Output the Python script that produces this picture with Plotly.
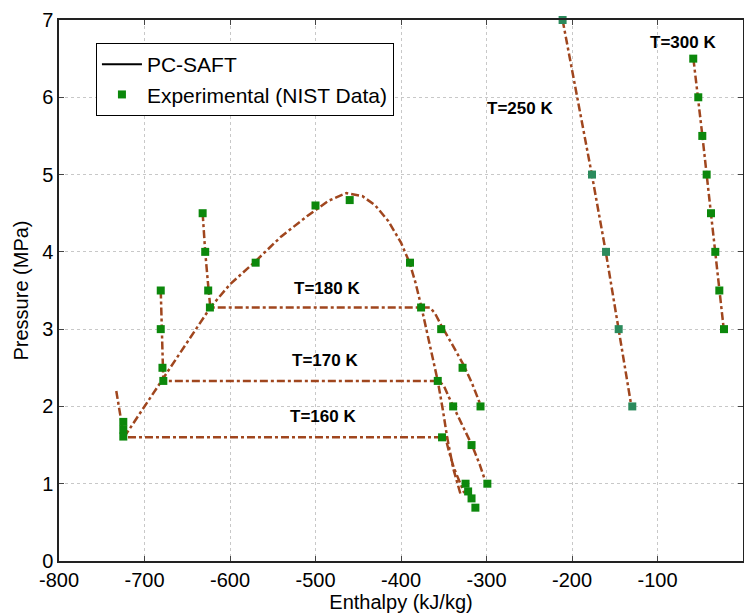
import plotly.graph_objects as go

# ---------------- data ----------------
# PC-SAFT curves (enthalpy kJ/kg, pressure MPa)
dome_h = [-724, -700, -678, -650, -623, -600, -570, -540, -510, -485, -464, -445, -430,
          -415, -400, -390, -383, -376, -366, -357, -351, -346, -339, -333, -330]
dome_p = [1.6, 2.0, 2.35, 2.82, 3.28, 3.58, 3.88, 4.2, 4.46, 4.66, 4.76, 4.72, 4.6,
          4.4, 4.12, 3.86, 3.6, 3.28, 2.8, 2.33, 1.95, 1.6, 1.2, 0.95, 0.85]

t160_h = [-733, -724, -348, -344, -338, -331, -326]
t160_p = [2.2, 1.6, 1.6, 1.42, 1.2, 1.0, 0.88]

t170_h = [-681, -680, -679, -678, -356, -350, -344, -339, -328, -317, -308, -301]
t170_p = [3.5, 3.0, 2.5, 2.33, 2.33, 2.27, 2.12, 2.0, 1.75, 1.5, 1.25, 1.02]

t180_h = [-632, -629, -625, -623, -376, -366, -360, -353, -340, -327, -317, -307]
t180_p = [4.5, 4.0, 3.5, 3.28, 3.28, 3.28, 3.2, 3.05, 2.8, 2.54, 2.3, 2.02]

t250_h = [-211, -193.5, -176.8, -160.5, -145.3, -130.5]
t250_p = [7.0, 6.0, 5.0, 4.0, 3.0, 2.0]

t300_h = [-58, -52.5, -47.5, -42.5, -37.5, -32.5, -27.5, -22.5]
t300_p = [6.5, 6.0, 5.5, 5.0, 4.5, 4.0, 3.5, 3.0]

# Experimental (NIST) points
exp_h = [-724.8, -724.8, -724.8,
         -681, -681, -679, -678,
         -632, -629, -625.5, -623.5,
         -570, -500, -460, -389.5,
         -376.5, -353, -328, -307,
         -357, -339, -317.5, -299,
         -352, -324.5, -321.5, -317.5, -313,
         -58.2, -52.3, -47.6, -42.5, -37.4, -32.4, -27.7, -22.2]
exp_p = [1.8, 1.7, 1.61,
         3.5, 3.0, 2.5, 2.33,
         4.5, 4.0, 3.5, 3.28,
         3.86, 4.6, 4.67, 3.86,
         3.28, 3.0, 2.5, 2.0,
         2.33, 2.0, 1.5, 1.0,
         1.6, 1.0, 0.9, 0.81, 0.69,
         6.5, 6.0, 5.5, 5.0, 4.5, 4.0, 3.5, 3.0]
exp250_h = [-211, -176.6, -160.2, -145.4, -129.5]
exp250_p = [7.0, 5.0, 4.0, 3.0, 2.0]

labels = ["T=300 K", "T=250 K", "T=180 K", "T=170 K", "T=160 K"]
label_h = [-70, -261, -487, -489, -491]
label_p = [6.71, 5.85, 3.53, 2.60, 1.87]

x_ticks = [-800, -700, -600, -500, -400, -300, -200, -100, 0]
x_ticktext = ["-800", "-700", "-600", "-500", "-400", "-300", "-200", "-100", "0"]
y_ticks = [0, 1, 2, 3, 4, 5, 6, 7]

# ---------------- figure ----------------
LINE_COLOR = "#a0461e"
GREEN = "#0c880c"
TEAL = "#2b8a5c"
line_style = dict(color=LINE_COLOR, width=2.5, dash="8px,3px,3px,3px")

fig = go.Figure()

for hh, pp in [(dome_h, dome_p), (t160_h, t160_p), (t170_h, t170_p),
               (t180_h, t180_p), (t250_h, t250_p), (t300_h, t300_p)]:
    fig.add_trace(go.Scatter(x=hh, y=pp, mode="lines", line=line_style,
                             showlegend=False, hoverinfo="skip"))

# legend-only entry for the model
fig.add_trace(go.Scatter(x=[None], y=[None], mode="lines", name="PC-SAFT",
                         line=dict(color="black", width=2)))

fig.add_trace(go.Scatter(x=exp_h, y=exp_p, mode="markers", name="Experimental (NIST Data)",
                         marker=dict(symbol="square", size=8, color=GREEN),
                         cliponaxis=False))
fig.add_trace(go.Scatter(x=exp250_h, y=exp250_p, mode="markers", showlegend=False,
                         marker=dict(symbol="square", size=8, color=TEAL),
                         cliponaxis=False))

for txt, hx, py in zip(labels, label_h, label_p):
    fig.add_annotation(x=hx, y=py, text="<b>%s</b>" % txt, showarrow=False,
                       font=dict(family="Liberation Sans, Arial", size=17, color="black"))

axis_common = dict(
    showline=True, linecolor="#222222", linewidth=1.5, mirror="ticks",
    ticks="inside", ticklen=5, tickcolor="#444444", tickwidth=1,
    showgrid=True, gridcolor="#c8c8c8", griddash="dot", gridwidth=1,
    zeroline=False,
    tickfont=dict(family="Liberation Sans, Arial", size=20, color="black"),
)

fig.update_xaxes(range=[-800, 0], tickvals=x_ticks, ticktext=x_ticktext,
                 title=dict(text="Enthalpy (kJ/kg)", standoff=4,
                            font=dict(family="Liberation Sans, Arial", size=20, color="black")),
                 **axis_common)
fig.update_yaxes(range=[0, 7], tickvals=y_ticks,
                 title=dict(text="Pressure (MPa)", standoff=8,
                            font=dict(family="Liberation Sans, Arial", size=20, color="black")),
                 **axis_common)

fig.update_layout(
    width=744, height=614,
    margin=dict(l=59, r=1, t=20, b=53, autoexpand=False),
    paper_bgcolor="white", plot_bgcolor="white",
    font=dict(family="Liberation Sans, Arial", color="black"),
    legend=dict(x=0.054, y=0.9575, xanchor="left", yanchor="top",
                bgcolor="white", bordercolor="black", borderwidth=1,
                font=dict(family="Liberation Sans, Arial", size=21, color="black"),
                itemwidth=40, tracegroupgap=0),
)

fig.write_html("out.html")
